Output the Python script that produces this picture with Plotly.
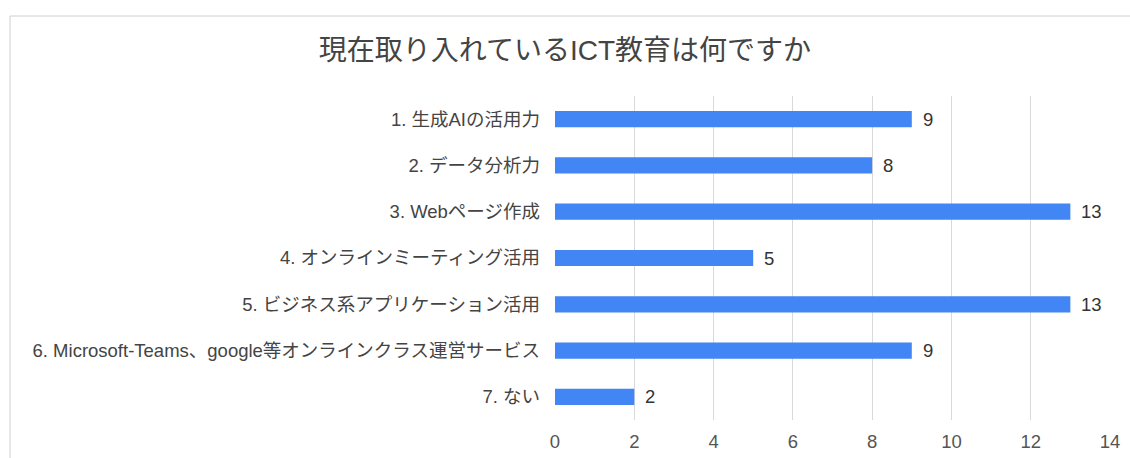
import plotly.graph_objects as go

categories = [
    "1. 生成AIの活用力",
    "2. データ分析力",
    "3. Webページ作成",
    "4. オンラインミーティング活用",
    "5. ビジネス系アプリケーション活用",
    "6. Microsoft-Teams、google等オンラインクラス運営サービス",
    "7. ない",
]
counts = [9, 8, 13, 5, 13, 9, 2]
x_ticks = [0, 2, 4, 6, 8, 10, 12, 14]

W, H = 1130, 458
L, R, T, B = 555, 20, 96, 38
pw, ph = W - L - R, H - T - B

font_family = "'Liberation Sans', Arial, 'Noto Sans CJK JP', sans-serif"
label_size = 18.5

fig = go.Figure(
    go.Bar(
        y=categories,
        x=counts,
        orientation="h",
        marker=dict(color="#4285F4", line=dict(width=0)),
        width=0.35,
        hoverinfo="x+y",
    )
)

# value labels just past the end of each bar
for cat, v in zip(categories, counts):
    fig.add_annotation(
        x=v, y=cat, xref="x", yref="y",
        text=str(v), showarrow=False,
        xanchor="left", yanchor="middle", xshift=9,
        font=dict(size=label_size, color="#333333", family=font_family),
    )

# light frame around the chart card (top and left edges visible)
fig.add_shape(
    type="rect", xref="paper", yref="paper",
    x0=(10 - L) / pw, x1=1 + 40 / pw,
    y0=-(B + 20) / ph, y1=1 + (T - 16) / ph,
    line=dict(color="#d0d0d0", width=1), fillcolor="rgba(0,0,0,0)",
    layer="below",
)

fig.update_layout(
    width=W, height=H,
    margin=dict(l=L, r=R, t=T, b=B, autoexpand=False),
    paper_bgcolor="white", plot_bgcolor="white",
    font=dict(family=font_family, color="#444444", size=label_size),
    title=dict(
        text="現在取り入れているICT教育は何ですか",
        x=(W / 2 - L) / pw, xref="paper", xanchor="center",
        y=1 - 50 / H, yref="container", yanchor="middle",
        font=dict(size=28, color="#444444", family=font_family),
    ),
    showlegend=False,
)

fig.update_xaxes(
    range=[0, 14], tickvals=x_ticks,
    showgrid=True, gridcolor="#d9d9d9", gridwidth=1,
    zeroline=False, showline=False, automargin=False,
    tickfont=dict(size=label_size, color="#555555"),
    ticks="", ticklabelstandoff=8,
)
fig.update_yaxes(
    autorange="reversed", automargin=False,
    showgrid=False, zeroline=False, showline=False,
    tickfont=dict(size=label_size, color="#444444"),
    ticks="", ticklabelstandoff=14,
)

fig.write_html("out.html")
